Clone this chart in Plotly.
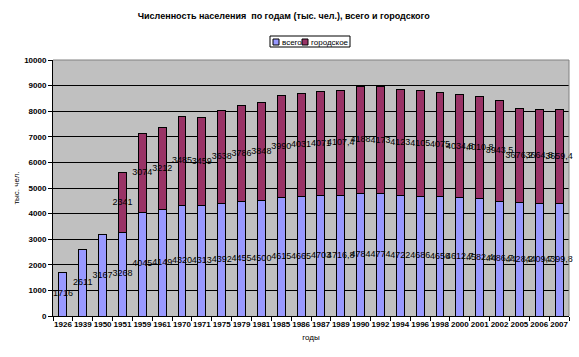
import numpy as np
import plotly.graph_objects as go

years = ["1926", "1939", "1950", "1951", "1959", "1961", "1970", "1971", "1975", "1979",
         "1981", "1985", "1986", "1987", "1989", "1990", "1992", "1994", "1996", "1998",
         "2000", "2001", "2002", "2005", "2006", "2007"]
vsego = [1716, 2611, 3167, 3268, 4045, 4149, 4320, 4313, 4392, 4455,
         4500, 4615, 4665, 4703, 4716.8, 4784, 4774, 4722, 4686, 4656,
         4612.7, 4582.4, 4486.7, 4428.2, 4409.7, 4399.8]
gorodskoe = [None, None, None, 2341, 3074, 3212, 3485, 3459, 3638, 3786,
             3848, 3990, 4031, 4071, 4107.4, 4188, 4173, 4123, 4105, 4075,
             4034.8, 4010.8, 3943.5, 3676.2, 3664.8, 3659.4]
y_ticks = [0, 1000, 2000, 3000, 4000, 5000, 6000, 7000, 8000, 9000, 10000]
series_names = ["всего", "городское"]

def fmt(v):
    if v is None:
        return ""
    s = ("%g" % v)
    return s.replace(".", ",")

FONT = "Liberation Sans, Arial, sans-serif"
BLUE = "#9999FF"
MAROON = "#993366"
W, H = 579, 357
ML, MR, MT, MB = 53, 10, 60, 41
PW, PH = W - ML - MR, H - MT - MB

def px(xp):
    return (xp - ML) / PW

def py(yp):
    return (H - MB - yp) / PH

fig = go.Figure()
fig.add_trace(go.Bar(x=years, y=vsego, name=series_names[0], showlegend=False,
                     marker=dict(color=BLUE, line=dict(color="black", width=1))))
fig.add_trace(go.Bar(x=years, y=gorodskoe, name=series_names[1], showlegend=False,
                     marker=dict(color=MAROON, line=dict(color="black", width=1))))

v = np.array(vsego, dtype=float)
g = np.array([np.nan if x is None else x for x in gorodskoe], dtype=float)
fig.add_trace(go.Scatter(x=years, y=v / 2, mode="text", text=[fmt(x) for x in vsego],
                         textfont=dict(family=FONT, size=9, color="black"),
                         showlegend=False, hoverinfo="skip", cliponaxis=False))
fig.add_trace(go.Scatter(x=years, y=v + g / 2, mode="text", text=[fmt(x) for x in gorodskoe],
                         textfont=dict(family=FONT, size=9, color="black"),
                         showlegend=False, hoverinfo="skip", cliponaxis=False))

fig.update_layout(
    width=W, height=H,
    margin=dict(l=ML, r=MR, t=MT, b=MB, autoexpand=False),
    paper_bgcolor="white", plot_bgcolor="#C0C0C0",
    barmode="stack", bargap=0.6,
    font=dict(family=FONT, size=8, color="black"),
    title=dict(text="<b>Численность населения  по годам (тыс. чел.), всего и городского</b>",
               x=0.49, xanchor="center", y=1 - 16 / H, yanchor="middle",
               font=dict(family=FONT, size=9, color="black")),
    showlegend=False,
)
fig.update_xaxes(type="category", range=[-0.5, len(years) - 0.5],
                 tickson="boundaries", ticks="outside", ticklen=4,
                 tickcolor="black", showline=True, linecolor="black", linewidth=1,
                 showgrid=False, tickangle=0, automargin=False,
                 tickfont=dict(family=FONT, size=8, color="black"),
                 tickprefix="<b>", ticksuffix="</b>",
                 title=dict(text="годы", font=dict(family=FONT, size=8, color="black"), standoff=6))
fig.update_yaxes(range=[0, 10000], tickvals=y_ticks, ticktext=["<b>%d</b>" % t for t in y_ticks],
                 ticks="outside", ticklen=4, tickcolor="black", automargin=False,
                 showline=True, linecolor="black", linewidth=1,
                 showgrid=True, gridcolor="black", gridwidth=1, zeroline=False,
                 tickfont=dict(family=FONT, size=8, color="black"),
                 title=dict(text="тыс. чел.", font=dict(family=FONT, size=8, color="black"), standoff=3))
fig.add_shape(type="line", xref="x domain", yref="y domain", x0=0, x1=1, y0=1, y1=1,
              line=dict(color="#808080", width=1), layer="above")
fig.add_shape(type="line", xref="x domain", yref="y domain", x0=1, x1=1, y0=0, y1=1,
              line=dict(color="#808080", width=1), layer="above")

# custom compact legend (Excel style)
fig.add_shape(type="rect", xref="paper", yref="paper", x0=px(270), x1=px(350), y0=py(47), y1=py(36),
              line=dict(color="black", width=1), fillcolor="white", layer="above")
for (x0, col, name, tx) in [(273, BLUE, series_names[0], 280), (302, MAROON, series_names[1], 309)]:
    fig.add_shape(type="rect", xref="paper", yref="paper", x0=px(x0), x1=px(x0 + 6),
                  y0=py(45), y1=py(39), line=dict(color="black", width=1), fillcolor=col, layer="above")
    fig.add_annotation(text=name, xref="paper", yref="paper", x=px(tx), y=py(42),
                       xanchor="left", yanchor="middle", showarrow=False,
                       font=dict(family=FONT, size=8, color="black"))

fig.write_html("out.html", config={"displayModeBar": False},
               post_script="document.body.style.margin='0px';")
